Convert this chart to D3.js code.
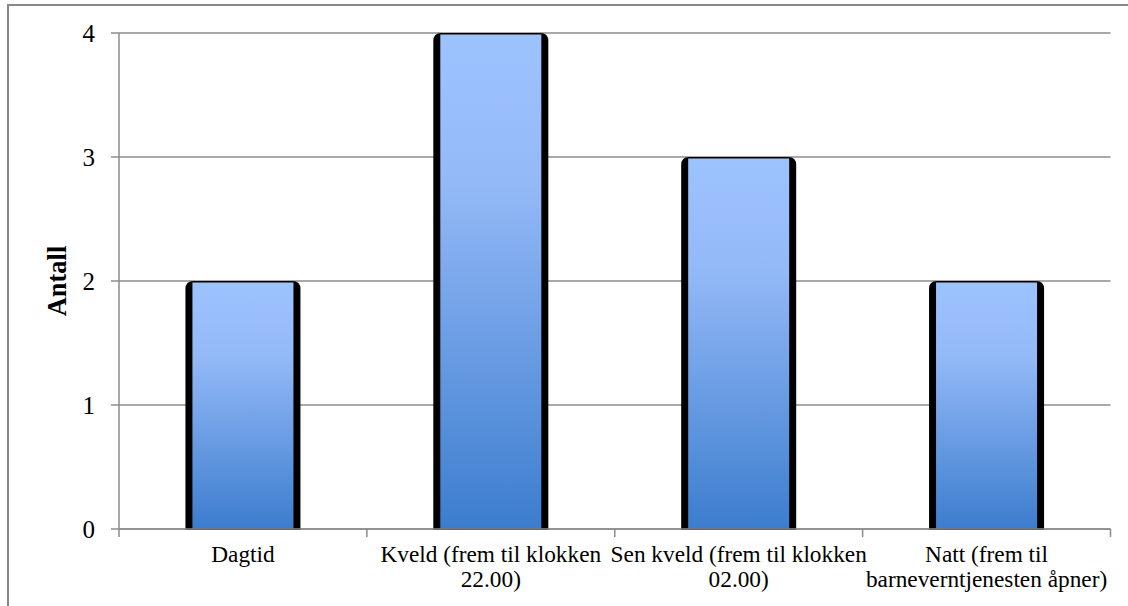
<!DOCTYPE html>
<html><head><meta charset="utf-8">
<script src="https://cdn.jsdelivr.net/npm/d3@7"></script>
<style>body{margin:0;background:#fff}svg{display:block}</style>
</head><body>
<svg id="c" width="1128" height="606"></svg>
<script>
const categories = [["Dagtid"], ["Kveld (frem til klokken", "22.00)"], ["Sen kveld (frem til klokken", "02.00)"], ["Natt (frem til", "barneverntjenesten åpner)"]];
const values = [2, 4, 3, 2];
const yTicks = [0, 1, 2, 3, 4];
const yTitle = "Antall";

(function () {
const svg = d3.select("#c");
const pLeft = 119, pRight = 1110.5, pTop = 33, pBottom = 529;
const x = d3.scaleBand().domain(d3.range(categories.length)).range([pLeft, pRight]).paddingInner(0.536).paddingOuter(0.268);
const y = d3.scaleLinear().domain([0, 4]).range([pBottom, pTop]);
const font = "'Liberation Serif', 'Times New Roman', serif";

// outer frame
svg.append("rect").attr("x", 8).attr("y", 5).attr("width", 1130).attr("height", 610)
  .attr("fill", "none").attr("stroke", "#888").attr("stroke-width", 2);

const defs = svg.append("defs");
const g = defs.append("linearGradient").attr("id", "bg").attr("x1", 0).attr("y1", 0).attr("x2", 0).attr("y2", 1);
g.append("stop").attr("offset", "0").attr("stop-color", "#9dc3ff");
g.append("stop").attr("offset", "0.3").attr("stop-color", "#94b9f7");
g.append("stop").attr("offset", "1").attr("stop-color", "#3c7dce");

// gridlines
svg.append("g").selectAll("line").data(yTicks).join("line")
  .attr("x1", pLeft - 8).attr("x2", pRight).attr("y1", d => y(d)).attr("y2", d => y(d))
  .attr("stroke", "#8c8c8c").attr("stroke-width", 1.5);

// y axis line
svg.append("line").attr("x1", pLeft).attr("x2", pLeft).attr("y1", pTop).attr("y2", pBottom + 0.75)
  .attr("stroke", "#8c8c8c").attr("stroke-width", 1.5);

// bars
const bars = svg.append("g");
values.forEach((v, i) => {
  const bx = x(i), bw = x.bandwidth(), by = y(v), bh = pBottom - y(v);
  const r = 8;
  const path = `M${bx},${pBottom + 1} V${by + r} Q${bx},${by} ${bx + r},${by} H${bx + bw - r} Q${bx + bw},${by} ${bx + bw},${by + r} V${pBottom + 1} Z`;
  bars.append("path").attr("d", path).attr("fill", "#000");
  bars.append("rect").attr("x", bx + 7).attr("y", by + 1.5).attr("width", bw - 14).attr("height", bh - 2)
    .attr("fill", "url(#bg)");
});

// x axis line and ticks
svg.append("line").attr("x1", pLeft).attr("x2", pRight).attr("y1", pBottom).attr("y2", pBottom)
  .attr("stroke", "#8c8c8c").attr("stroke-width", 1.5);
const bounds = d3.range(categories.length + 1).map(i => pLeft + i * x.step());
svg.append("g").selectAll("line").data(bounds).join("line")
  .attr("x1", d => d).attr("x2", d => d).attr("y1", pBottom).attr("y2", pBottom + 8)
  .attr("stroke", "#8c8c8c").attr("stroke-width", 1.5);

// y tick labels
svg.append("g").selectAll("text").data(yTicks).join("text")
  .attr("x", 95).attr("y", d => y(d)).attr("dy", "0.35em").attr("text-anchor", "end")
  .attr("font-family", font).attr("font-size", 25).attr("fill", "#000").text(d => d);

// x labels
const xl = svg.append("g");
categories.forEach((lines, i) => {
  const t = xl.append("text").attr("text-anchor", "middle").attr("font-family", font)
    .attr("font-size", 23.3).attr("fill", "#000");
  lines.forEach((s, k) => {
    t.append("tspan").attr("x", x(i) + x.bandwidth() / 2).attr("y", 562 + k * 24.5).text(s);
  });
});

// y title
svg.append("text").attr("transform", `translate(66,281) rotate(-90)`).attr("text-anchor", "middle")
  .attr("font-family", font).attr("font-size", 26.5).attr("font-weight", "bold").attr("fill", "#000").text(yTitle);
})();
</script>
</body></html>
